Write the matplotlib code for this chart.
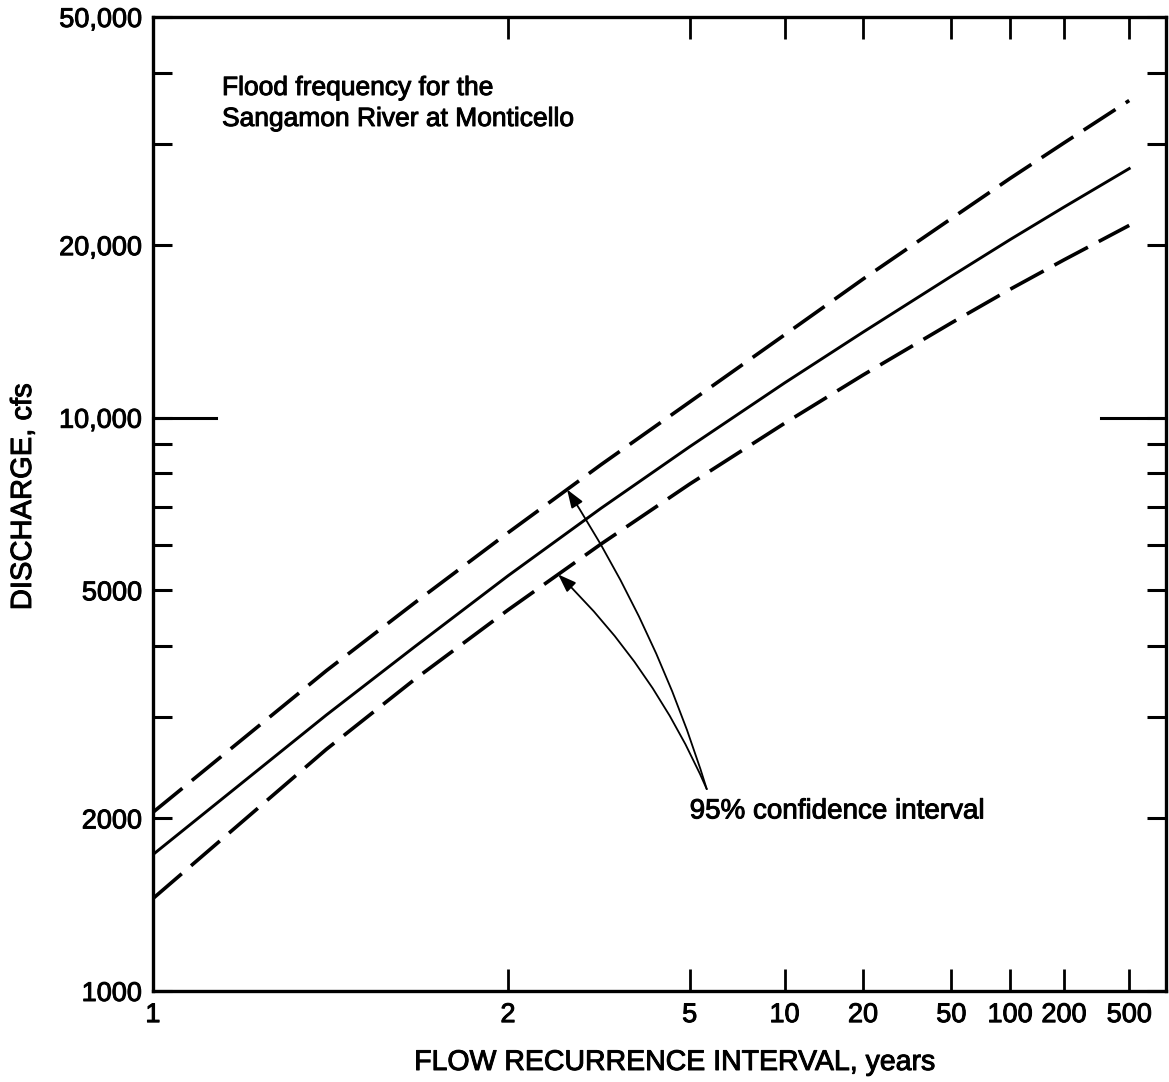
import numpy as np
import matplotlib
matplotlib.use("Agg")
from matplotlib import pyplot as plt
from matplotlib import patheffects
from matplotlib.ticker import FixedLocator, NullFormatter
from statistics import NormalDist

plt.rcParams["font.family"] = ["Liberation Sans", "DejaVu Sans"]

# flood frequency curve and its 95% confidence limits (discharge, cfs)
recurrence_years = [1, 1.25, 1.5, 2, 3, 5, 10, 20, 50, 100, 200, 500]
discharge = [1730, 3030, 3990, 5300, 6950, 8900, 11500, 14100, 17650, 20450, 23300, 27200]
upper_limit = [2050, 3620, 4760, 6300, 8280, 10650, 13950, 17450, 22250, 26150, 30150, 35750]
lower_limit = [1450, 2640, 3500, 4620, 6020, 7660, 9780, 11870, 14630, 16750, 18850, 21650]

x_ticks = [1, 2, 5, 10, 20, 50, 100, 200, 500]
x_tick_labels = ["1", "2", "5", "10", "20", "50", "100", "200", "500"]
y_major = [1000, 2000, 5000, 10000, 20000, 50000]
y_major_labels = ["1000", "2000", "5000", "10,000", "20,000", "50,000"]
y_minor = [3000, 4000, 6000, 7000, 8000, 9000, 30000, 40000]

norm = NormalDist()
ink = [patheffects.withStroke(linewidth=0.7, foreground="black")]


def to_z(years):
    # probability paper: normal variate of the non-exceedance probability,
    # the "1 year" line is drawn at the 95% exceedance point
    years = np.atleast_1d(np.asarray(years, dtype=float))
    p = 1 - 1 / np.maximum(years, 1 / 0.95)
    return np.array([norm.inv_cdf(v) for v in p])


def on_curve(years, values):
    # read a point off a curve, interpolating in (z, log Q)
    z = to_z(years)[0]
    q = 10 ** np.interp(z, to_z(recurrence_years), np.log10(values))
    return z, q


fig = plt.figure(figsize=(11.69, 10.82), dpi=100)
ax = fig.add_axes([153 / 1169, 1 - 991 / 1082, (1166 - 153) / 1169, (991 - 17) / 1082])

x = to_z(recurrence_years)
ax.plot(x, discharge, color="black", lw=2.1, solid_joinstyle="round")
ax.plot(x, upper_limit, color="black", lw=2.6, dashes=(10.5, 3.4))
ax.plot(x, lower_limit, color="black", lw=2.6, dashes=(10.5, 3.4))

ax.set_yscale("log")
ax.set_ylim(1000, 50000)
ax.set_xlim(to_z(1)[0], to_z(870)[0])

ax.set_xticks(to_z(x_ticks))
ax.set_xticklabels(x_tick_labels)
ax.set_yticks(y_major)
ax.set_yticklabels(y_major_labels)
ax.yaxis.set_minor_locator(FixedLocator(y_minor))
ax.yaxis.set_minor_formatter(NullFormatter())
ax.xaxis.set_minor_locator(FixedLocator([]))

ax.tick_params(axis="y", which="both", direction="in", left=True, right=True,
               length=14, width=2.2, pad=8, labelsize=19.5)
ax.tick_params(axis="x", which="major", direction="in", bottom=True, top=True,
               length=16, width=2.0, pad=8, labelsize=19.5)
for lab in ax.get_xticklabels() + ax.get_yticklabels():
    lab.set_path_effects(ink)

for side in ax.spines.values():
    side.set_linewidth(2.4)

# the 10,000 line gets a longer mark on both sides
ax.plot([0, 0.062], [10000, 10000], transform=ax.get_yaxis_transform(),
        color="black", lw=2.2, clip_on=False)
ax.plot([0.936, 1], [10000, 10000], transform=ax.get_yaxis_transform(),
        color="black", lw=2.2, clip_on=False)

fig.text(222 / 1169, 1 - 95 / 1082, "Flood frequency for the",
         fontsize=19, va="baseline", ha="left", path_effects=ink)
fig.text(222 / 1169, 1 - 126 / 1082, "Sangamon River at Monticello",
         fontsize=19, va="baseline", ha="left", path_effects=ink)

# confidence interval note with arrows to both limits
ax.text(to_z(5)[0], 2000, "95% confidence interval", fontsize=20,
        va="baseline", ha="left", path_effects=ink)
tail = (to_z(5.6)[0], 2250)
for years, values, rad in [(2.55, upper_limit, 0.07), (2.45, lower_limit, 0.1)]:
    ax.annotate("", xy=on_curve(years, values), xytext=tail,
                arrowprops=dict(arrowstyle="-|>,head_length=0.5,head_width=0.18",
                                mutation_scale=22, color="black", lw=1.3,
                                shrinkA=0, shrinkB=0,
                                connectionstyle="arc3,rad=%s" % rad))

fig.text(23 / 1169, 1 - 497 / 1082, "DISCHARGE, cfs", fontsize=21,
         rotation=90, ha="center", va="center", path_effects=ink)
fig.text(675 / 1169, 1 - 1070 / 1082, "FLOW RECURRENCE INTERVAL, years",
         fontsize=20.5, ha="center", va="baseline", path_effects=ink)

fig.savefig("out.png", dpi=100)
